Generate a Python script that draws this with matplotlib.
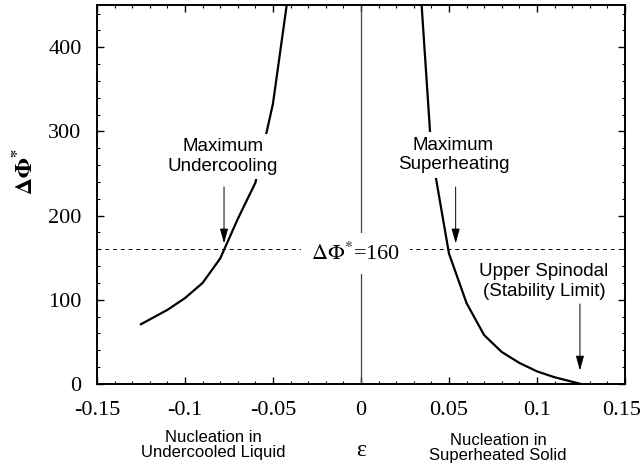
import matplotlib
matplotlib.use('Agg')
from matplotlib import pyplot as plt
from matplotlib import transforms as mtransforms
from matplotlib.ticker import MultipleLocator

plt.rcParams['font.family'] = ['Liberation Serif', 'DejaVu Serif']
plt.rcParams['mathtext.fontset'] = 'stix'

# nucleation barrier vs strain, two branches
left_eps = [-0.125, -0.11, -0.10, -0.09, -0.08, -0.07, -0.06, -0.05, -0.04]
left_phi = [71, 88, 102, 120, 149, 196, 239, 333, 483]
right_eps = [0.03, 0.04, 0.05, 0.06, 0.07, 0.08, 0.09, 0.10, 0.11, 0.125]
right_phi = [590, 276, 155, 96, 58, 38, 25, 15, 8, 0]
barrier_level = 160

xticks = [-0.15, -0.1, -0.05, 0, 0.05, 0.1, 0.15]
xtick_labels = ['-0.15', '-0.1', '-0.05', '0', '0.05', '0.1', '0.15']
yticks = [0, 100, 200, 300, 400]

fig = plt.figure(figsize=(6.42, 4.70), dpi=100)
ax = fig.add_axes([0.151, 0.183, 0.8225, 0.806])

ax.plot(left_eps, left_phi, color='black', lw=1.6, zorder=3)
ax.plot(right_eps, right_phi, color='black', lw=1.6, zorder=3)
ax.axhline(barrier_level, color='black', lw=0.7, ls=(0, (4, 4)), zorder=2)
ax.axvline(0, color='#444444', lw=0.9, zorder=2)

ax.set_xlim(-0.15, 0.15)
ax.set_ylim(0, 450)
ax.set_xticks(xticks)
ax.set_xticklabels(xtick_labels)
ax.set_yticks(yticks)
ax.xaxis.set_minor_locator(MultipleLocator(0.01))
ax.yaxis.set_minor_locator(MultipleLocator(20))
ax.tick_params(which='both', direction='in', top=True, right=True, labelsize=16)
ax.tick_params(which='major', length=5, width=1)
ax.tick_params(which='minor', length=2.5, width=0.8)
ax.tick_params(axis='x', pad=12)
ax.tick_params(axis='y', pad=11)
for s in ax.spines.values():
    s.set_linewidth(1.4)

# keep the last x tick label inside the figure
last = ax.get_xticklabels()[-1]
last.set_transform(last.get_transform() + mtransforms.ScaledTranslation(-3 / 100, 0, fig.dpi_scale_trans))

ax.set_ylabel(r'$\mathbf{\Delta\Phi^{*}}$', fontsize=17)
ax.yaxis.set_label_coords(-0.114, 0.56)
ax.set_xlabel('ε', fontsize=17, labelpad=15)

box = dict(facecolor='white', edgecolor='none', pad=3)
sans = ['Liberation Sans', 'DejaVu Sans']
ax.text(-0.0784, 270, 'Maximum\nUndercooling', family=sans, fontsize=13.5,
        ha='center', va='center', linespacing=1.22, bbox=box, zorder=4)
ax.text(0.0525, 272, 'Maximum\nSuperheating', family=sans, fontsize=13.5,
        ha='center', va='center', linespacing=1.22, bbox=box, zorder=4)
ax.text(0.104, 122, 'Upper Spinodal\n(Stability Limit)', family=sans, fontsize=13.5,
        ha='center', va='center', linespacing=1.22, bbox=box, zorder=4)
ax.text(-0.003, 155, r'$\Delta\Phi^{*}$=160', fontsize=16, ha='center', va='center',
        bbox=dict(facecolor='white', edgecolor='none', pad=7), zorder=4)

arrow = dict(arrowstyle='-|>,head_width=0.25,head_length=0.9', color='black', lw=0.7,
             shrinkA=0, shrinkB=0)
ax.annotate('', xy=(-0.0778, 167), xytext=(-0.0778, 234), arrowprops=arrow, zorder=5)
ax.annotate('', xy=(0.0538, 167), xytext=(0.0538, 234), arrowprops=arrow, zorder=5)
ax.annotate('', xy=(0.1244, 16), xytext=(0.1244, 95), arrowprops=arrow, zorder=5)

fig.text(213 / 642, 1 - 445 / 470, 'Nucleation in\nUndercooled Liquid', family=sans,
         fontsize=12, ha='center', va='center', linespacing=1.08)
fig.text(498 / 642, 1 - 448 / 470, 'Nucleation in\nSuperheated Solid', family=sans,
         fontsize=12, ha='center', va='center', linespacing=1.08)

fig.savefig('out.png', dpi=100)
